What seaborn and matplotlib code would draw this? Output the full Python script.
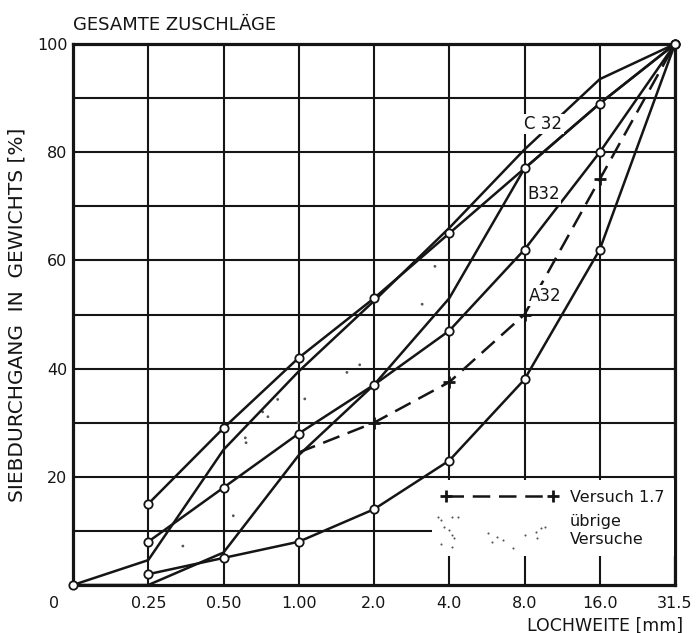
import matplotlib
matplotlib.use("Agg")
import matplotlib.pyplot as plt
from matplotlib.lines import Line2D
from matplotlib.legend_handler import HandlerBase
from matplotlib.transforms import ScaledTranslation
import numpy as np
import seaborn as sns

# Sieve sizes (mm), drawn on equally spaced positions
sieve_labels = ["0", "0.25", "0.50", "1.00", "2.0", "4.0", "8.0", "16.0", "31.5"]
pos = list(range(len(sieve_labels)))

# Grading limit curves, passing fraction in %
a32 = [0, 2, 5, 8, 14, 23, 38, 62, 100]
b32 = [0, 8, 18, 28, 37, 47, 62, 80, 100]
c32 = [0, 15, 29, 42, 53, 65, 77, 89, 100]

# Envelope of the remaining test mixes
upper_env = [0, 4.6, 25, 39.5, 52.5, 66, 80.5, 93.5, 100]
lower_env = [0, 0, 6, 24, 37, 53, 77, 89, 100]

# Test mix 1.7 (measured from 1.00 mm upward)
versuch_17 = [np.nan, np.nan, np.nan, 24.5, 30, 37.5, 50, 75, 100]

# Single readings of the remaining test mixes (position on sieve axis, %)
others_x = [2.29, 2.59, 2.72, 2.99, 2.13, 1.46, 3.81, 3.64, 3.08, 2.52, 4.81, 4.64, 2.30]
others_y = [27.2, 31.1, 34.3, 30.0, 12.8, 7.2, 40.7, 39.3, 34.4, 32.0, 58.9, 51.9, 26.3]

ink = "#151515"
lw = 1.8

sns.set_theme(style="white")
plt.rcParams["font.family"] = ["DejaVu Sans"]

fig = plt.figure(figsize=(7.0, 6.33), dpi=100)
ax = fig.add_axes([73 / 700, 1 - 585 / 633, (675 - 73) / 700, (585 - 44) / 633])

circle_kw = dict(marker="o", markersize=6, markerfacecolor="white",
                 markeredgecolor=ink, markeredgewidth=1.3)

for vals in (a32, b32, c32):
    sns.lineplot(x=pos[1:], y=vals[1:], ax=ax, color=ink, linewidth=lw,
                 clip_on=False, zorder=4, **circle_kw)
sns.scatterplot(x=pos[:1], y=a32[:1], ax=ax, s=36, facecolor="white",
                edgecolor=ink, linewidth=1.3, clip_on=False, zorder=5)

for vals in (upper_env, lower_env):
    sns.lineplot(x=pos, y=vals, ax=ax, color=ink, linewidth=lw, zorder=3)

sns.lineplot(x=pos[3:], y=versuch_17[3:], ax=ax, color=ink, linewidth=lw,
             linestyle=(0, (7, 3.5)), marker="+", markersize=9,
             markeredgewidth=2, markeredgecolor=ink,
             markevery=[1, 2, 3, 4], zorder=3)

sns.scatterplot(x=others_x, y=others_y, ax=ax, s=4, color="#555555",
                edgecolor="none", zorder=2)

# Curve names
label_box = dict(facecolor="white", edgecolor="none", pad=1.0)
ax.text(6.25, 85.2, "C 32", fontsize=12, ha="center", va="center", color=ink,
        bbox=label_box, zorder=6)
ax.text(6.25, 72.2, "B32", fontsize=12, ha="center", va="center", color=ink,
        bbox=label_box, zorder=6)
ax.text(6.27, 53.5, "A32", fontsize=12, ha="center", va="center", color=ink,
        bbox=label_box, zorder=6)

# Axes, grid and ticks
ax.set_xlim(0, 8)
ax.set_ylim(0, 100)
ax.set_xticks(pos, sieve_labels)
ax.set_yticks([20, 40, 60, 80, 100])
ax.set_yticks([10, 30, 50, 70, 90], minor=True)
ax.grid(True, which="both", axis="y", color=ink, linewidth=1.5)
ax.grid(True, which="major", axis="x", color=ink, linewidth=1.5)
ax.set_axisbelow(True)
ax.tick_params(axis="both", which="both", length=0, labelsize=11.5, colors=ink)
ax.tick_params(axis="x", pad=8)
ax.tick_params(axis="y", pad=4)
for side in ax.spines.values():
    side.set_color(ink)
    side.set_linewidth(2.3)

zero_label = ax.get_xticklabels()[0]
zero_label.set_transform(zero_label.get_transform()
                         + ScaledTranslation(-0.19, 0, fig.dpi_scale_trans))

ax.set_title("GESAMTE ZUSCHLÄGE", loc="left", fontsize=13, pad=10, color=ink)
ax.set_ylabel("SIEBDURCHGANG  IN  GEWICHTS [%]", fontsize=14.5, color=ink)
ax.yaxis.set_label_coords(-0.078, 0.5)
ax.set_xlabel("LOCHWEITE [mm]", fontsize=12.5, color=ink, loc="right")
ax.xaxis.set_label_coords(1.013, -0.058)


class DotCloudHandler(HandlerBase):
    """Draws a small cloud of dots as legend glyph."""

    def __init__(self, fx, fy, **kw):
        super().__init__(**kw)
        self.fx = np.asarray(fx)
        self.fy = np.asarray(fy)

    def create_artists(self, legend, orig_handle, xdescent, ydescent,
                       width, height, fontsize, trans):
        xs = -xdescent + self.fx * width
        ys = -ydescent + height / 2 + self.fy * fontsize
        dots = Line2D(xs, ys, linestyle="none", marker="o", markersize=1.5,
                      color="#555555", markeredgewidth=0)
        dots.set_transform(trans)
        return [dots]


cloud_fx = [-0.03, 0, 0.087, 0.144, 0.019, 0.067, 0.087, 0.106, 0, 0.087,
            0.404, 0.481, 0.433, 0.529, 0.615, 0.721, 0.808, 0.856, 0.817, 0.885]
cloud_fy = [0.875, 0.69, 0.875, 0.875, 0.25, 0.06, -0.25, -0.44, -0.81, -1.0,
            -0.125, -0.375, -0.69, -0.56, -1.06, -0.25, -0.06, 0.19, -0.44, 0.25]

test_handle = Line2D([], [], color=ink, linewidth=lw, linestyle=(0, (7, 3.5)),
                     marker="+", markersize=9, markeredgewidth=2)
cloud_handle = Line2D([], [])
leg = ax.legend([test_handle, cloud_handle], ["Versuch 1.7", "übrige\nVersuche"],
                handler_map={cloud_handle: DotCloudHandler(cloud_fx, cloud_fy)},
                loc="upper left", bbox_to_anchor=(0.596, 0.194), borderaxespad=0,
                numpoints=2, fontsize=11.5, handlelength=7.3, handletextpad=0.75,
                borderpad=0.6, labelspacing=0.6, frameon=True, fancybox=False,
                facecolor="white", edgecolor="none", framealpha=1.0)
for t in leg.get_texts():
    t.set_color(ink)

fig.savefig("out.png", dpi=100, facecolor="white")
